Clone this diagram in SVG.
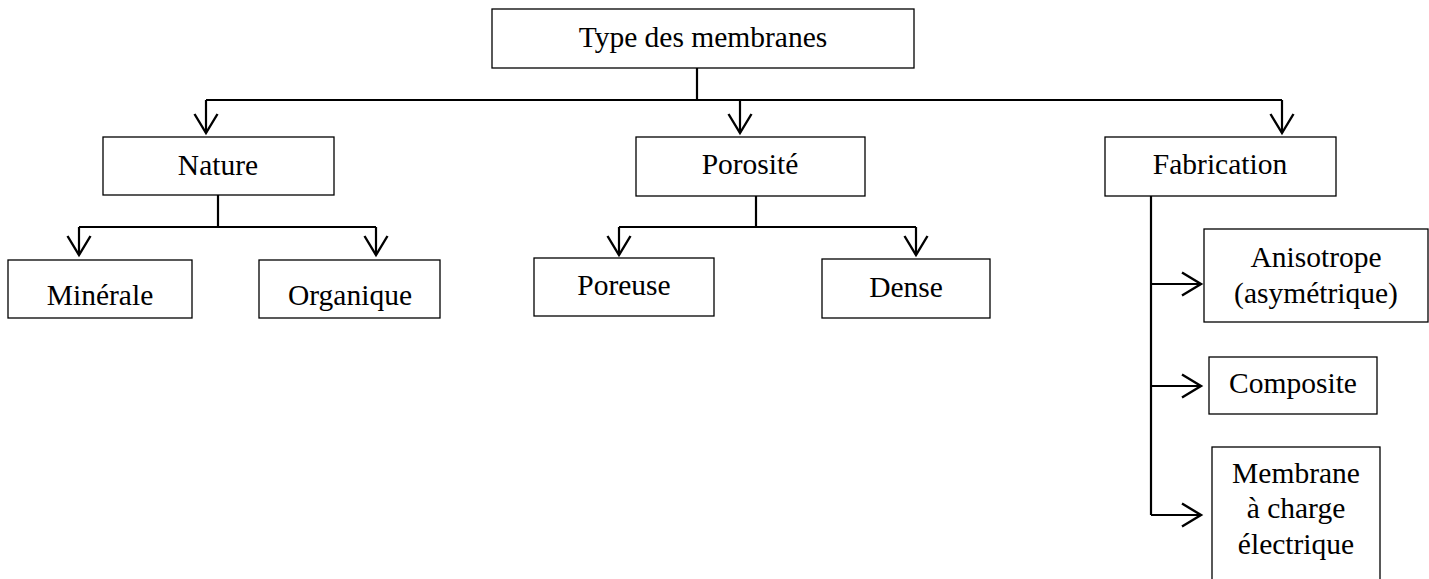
<svg xmlns="http://www.w3.org/2000/svg" width="1429" height="579" viewBox="0 0 1429 579">
<style>
.box{fill:#fff;stroke:#000;stroke-width:1.3}
.lbl{font-family:"Liberation Serif","Times New Roman",serif;font-size:29.5px;fill:#000;text-anchor:middle}
.con{fill:none;stroke:#000;stroke-width:2.2}
</style>
<defs>
<marker id="ah" markerUnits="userSpaceOnUse" markerWidth="26" markerHeight="26" viewBox="-22 -13 26 26" refX="0" refY="0" orient="auto" overflow="visible">
<path d="M-19,-11.5 L0,0 L-19,11.5" fill="none" stroke="#000" stroke-width="2.4"/>
</marker>
</defs>
<rect width="1429" height="579" fill="#fff"/>
<g id="connectors" class="con">
<path d="M697,68 V100"/>
<path d="M206,100 H1282"/>
<path d="M206,100 V133" marker-end="url(#ah)"/>
<path d="M740,100 V133" marker-end="url(#ah)"/>
<path d="M1282,100 V133" marker-end="url(#ah)"/>
<path d="M218,195 V227"/>
<path d="M79,227 H376"/>
<path d="M79,227 V255" marker-end="url(#ah)"/>
<path d="M376,227 V255" marker-end="url(#ah)"/>
<path d="M756,196 V227"/>
<path d="M619,227 H916"/>
<path d="M619,227 V255" marker-end="url(#ah)"/>
<path d="M916,227 V255" marker-end="url(#ah)"/>
<path d="M1151,196 V515"/>
<path d="M1151,284 H1201" marker-end="url(#ah)"/>
<path d="M1151,386 H1201" marker-end="url(#ah)"/>
<path d="M1151,515 H1201" marker-end="url(#ah)"/>
</g>
<g id="n-type"><rect class="box" x="492" y="9" width="422" height="59"/><text class="lbl" x="703" y="47">Type des membranes</text></g>
<g id="n-nature"><rect class="box" x="103" y="137" width="231" height="58"/><text class="lbl" x="218" y="175">Nature</text></g>
<g id="n-porosite"><rect class="box" x="636" y="137" width="229" height="59"/><text class="lbl" x="750" y="174">Porosité</text></g>
<g id="n-fabrication"><rect class="box" x="1105" y="137" width="231" height="59"/><text class="lbl" x="1220" y="174">Fabrication</text></g>
<g id="n-minerale"><rect class="box" x="8" y="260" width="184" height="58"/><text class="lbl" x="100" y="305">Minérale</text></g>
<g id="n-organique"><rect class="box" x="259" y="260" width="181" height="58"/><text class="lbl" x="350" y="305">Organique</text></g>
<g id="n-poreuse"><rect class="box" x="534" y="258" width="180" height="58"/><text class="lbl" x="624" y="295">Poreuse</text></g>
<g id="n-dense"><rect class="box" x="822" y="259" width="168" height="59"/><text class="lbl" x="906" y="297">Dense</text></g>
<g id="n-anisotrope"><rect class="box" x="1204" y="229" width="224" height="93"/><text class="lbl" x="1316" y="267">Anisotrope</text><text class="lbl" x="1316" y="303">(asymétrique)</text></g>
<g id="n-composite"><rect class="box" x="1209" y="357" width="168" height="57"/><text class="lbl" x="1293" y="393">Composite</text></g>
<g id="n-membrane"><rect class="box" x="1212" y="447" width="168" height="140"/><text class="lbl" x="1296" y="483">Membrane</text><text class="lbl" x="1296" y="518">à charge</text><text class="lbl" x="1296" y="554">électrique</text></g>
</svg>
